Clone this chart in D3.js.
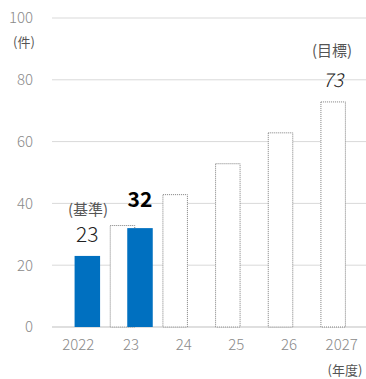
<!DOCTYPE html>
<html><head><meta charset="utf-8">
<script src="https://cdn.jsdelivr.net/npm/d3@7"></script>
<style>body{margin:0;background:#fff}svg{display:block}text{font-family:"Noto Sans CJK JP","Noto Sans",Roboto,sans-serif}</style>
</head><body><svg id="c" width="366" height="379"></svg>
<script>
const categories = ["2022","23","24","25","26","2027"];
const actual = [23, 32, null, null, null, null];
const plan = [null, 33, 43, 53, 63, 73];
const yTicks = [0,20,40,60,80,100];

const svg = d3.select("#c");
const W = 366, H = 379;
const m = {l:52, r:-2, t:18, b:52};
const x = d3.scaleBand().domain(categories).range([m.l, W - m.r]).paddingInner(0).paddingOuter(0);
const y = d3.scaleLinear().domain([0,100]).range([H - m.b, m.t]);
const cx = c => x(c) + x.bandwidth()/2;
const bw = 25.5;
const numFont = "Roboto, 'Liberation Sans', sans-serif";

// gridlines
svg.append("g").selectAll("line").data(yTicks).join("line")
  .attr("x1", m.l).attr("x2", W).attr("y1", d=>y(d)).attr("y2", d=>y(d))
  .attr("stroke", d => d===0 ? "#bfbfbf" : "#d9d9d9").attr("stroke-width",1);

// y labels
svg.append("g").selectAll("text").data(yTicks).join("text")
  .attr("x", 33).attr("y", d=>y(d)).attr("dy","0.36em").attr("text-anchor","end")
  .attr("font-family", numFont).attr("font-weight",300)
  .attr("font-size",15).attr("fill","#8a8a8a").text(d=>d);

// plan bars (dotted)
const pd = categories.map((c,i)=>({c, v:plan[i]})).filter(d=>d.v!=null);
svg.append("g").selectAll("rect").data(pd).join("rect")
  .attr("x", d=>cx(d.c) - 8.5 - bw/2 + 0.5).attr("y", d=>y(d.v)+0.5)
  .attr("width", bw - 1).attr("height", d=>y(0)-y(d.v)-0.5)
  .attr("fill","#fff").attr("stroke","#7f7f7f").attr("stroke-width",1).attr("stroke-dasharray","1,1");

// actual bars
const ad = categories.map((c,i)=>({c, v:actual[i]})).filter(d=>d.v!=null);
svg.append("g").selectAll("rect").data(ad).join("rect")
  .attr("x", d=>cx(d.c) + 9 - bw/2).attr("y", d=>y(d.v))
  .attr("width", bw).attr("height", d=>y(0)-y(d.v))
  .attr("fill","#0070C0");

// x labels
svg.append("g").selectAll("text").data(categories).join("text")
  .attr("x", d=>cx(d)).attr("y", 345).attr("dy","0.36em").attr("text-anchor","middle")
  .attr("font-family", numFont).attr("font-weight",300)
  .attr("font-size",15).attr("fill","#8a8a8a").text(d=>d);

// annotations
svg.append("text").attr("x",24).attr("y",42).attr("dy","0.36em").attr("text-anchor","middle")
  .attr("font-size",13).attr("fill","#555").text("(件)");
svg.append("text").attr("x",345).attr("y",370).attr("dy","0.36em").attr("text-anchor","middle")
  .attr("font-size",13).attr("fill","#555").text("(年度)");
svg.append("text").attr("x",88).attr("y",210).attr("dy","0.36em").attr("text-anchor","middle")
  .attr("font-size",15).attr("fill","#555").text("(基準)");
svg.append("text").attr("x",cx("2022")+9).attr("y",y(actual[0])-14).attr("text-anchor","middle")
  .attr("font-family",numFont).attr("font-weight",300)
  .attr("font-size",21).attr("fill","#222").text(actual[0]);
svg.append("text").attr("x",cx("23")+9).attr("y",y(actual[1])-21).attr("text-anchor","middle")
  .attr("font-family","'Liberation Sans', Arial, sans-serif")
  .attr("font-size",21).attr("font-weight","bold").attr("fill","#000").text(actual[1]);
svg.append("text").attr("x",332).attr("y",51).attr("dy","0.36em").attr("text-anchor","middle")
  .attr("font-size",15).attr("fill","#555").text("(目標)");
svg.append("text").attr("x",333).attr("y",87).attr("text-anchor","middle")
  .attr("font-family",numFont).attr("font-weight",300)
  .attr("font-size",19).attr("font-style","italic").attr("fill","#222").text(plan[5]);
</script></body></html>
